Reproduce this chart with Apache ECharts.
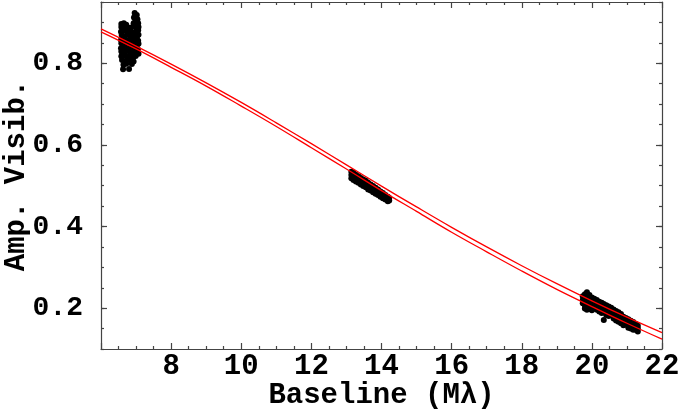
<!DOCTYPE html>
<html>
<head>
<meta charset="utf-8">
<script src="https://cdn.jsdelivr.net/npm/echarts@6/dist/echarts.min.js"></script>
<style>html,body{margin:0;padding:0;background:#fff}#c{width:680px;height:414px}</style>
</head>
<body>
<div id="c"></div>
<script>
// ---- data ----
var curveX = [6,7,8,9,10,11,12,13,14,15,16,17,18,19,20,21,22];
var upperY = [0.884,0.842,0.798,0.752,0.704,0.654,0.603,0.551,0.499,0.448,0.398,0.350,0.304,0.260,0.218,0.178,0.140];
var lowerY = [0.877,0.835,0.790,0.744,0.695,0.645,0.593,0.541,0.488,0.437,0.386,0.338,0.291,0.246,0.204,0.163,0.124];

var clusterShort = [
 [6.96,0.923],[7.02,0.918],[6.94,0.912],[7.04,0.908],[6.98,0.902],[6.93,0.898],[7.06,0.898],[6.58,0.896],[6.65,0.898],[6.72,0.894],
 [6.58,0.889],[6.66,0.886],[6.74,0.884],[6.83,0.887],[6.92,0.890],[7.01,0.886],[7.07,0.889],
 [6.57,0.877],[6.65,0.880],[6.75,0.876],[6.84,0.879],[6.93,0.875],[7.02,0.878],[7.06,0.881],
 [6.59,0.869],[6.67,0.866],[6.76,0.870],[6.85,0.867],[6.94,0.869],[7.03,0.866],[7.07,0.870],
 [6.57,0.857],[6.66,0.860],[6.74,0.856],[6.83,0.859],[6.92,0.857],[7.01,0.860],[7.06,0.855],
 [6.58,0.849],[6.66,0.846],[6.75,0.850],[6.84,0.847],[6.93,0.849],[7.02,0.845],[7.07,0.848],
 [6.57,0.837],[6.65,0.840],[6.74,0.836],[6.83,0.839],[6.92,0.836],[7.01,0.839],[7.05,0.834],
 [6.58,0.829],[6.66,0.826],[6.75,0.830],[6.84,0.827],[6.93,0.829],[7.00,0.825],[7.07,0.823],
 [6.58,0.817],[6.66,0.820],[6.74,0.816],[6.83,0.819],[6.92,0.815],[6.99,0.818],
 [6.60,0.808],[6.68,0.805],[6.76,0.809],[6.85,0.806],[6.93,0.804],
 [6.64,0.796],[6.72,0.799],[6.63,0.785],[6.80,0.786],[6.88,0.798]
];
var clusterMid = [
 [13.14,0.534],[13.14,0.526],[13.14,0.518],
 [13.20,0.532],[13.20,0.523],[13.20,0.514],
 [13.27,0.527],[13.27,0.519],[13.27,0.510],
 [13.34,0.523],[13.34,0.514],[13.34,0.507],
 [13.41,0.519],[13.41,0.511],[13.41,0.503],
 [13.48,0.515],[13.48,0.507],[13.48,0.499],
 [13.55,0.512],[13.55,0.503],[13.55,0.496],
 [13.62,0.507],[13.62,0.499],[13.62,0.491],
 [13.69,0.503],[13.69,0.495],[13.69,0.488],
 [13.76,0.499],[13.76,0.491],[13.76,0.484],
 [13.83,0.495],[13.83,0.488],[13.83,0.480],
 [13.90,0.491],[13.90,0.484],[13.90,0.477],
 [13.97,0.486],[13.97,0.480],[13.97,0.473],
 [14.04,0.482],[14.04,0.476],[14.04,0.469],
 [14.11,0.477],[14.11,0.472],[14.11,0.466],
 [14.18,0.473],[14.18,0.468],[14.18,0.462],
 [14.22,0.470],[14.22,0.464]
];
var clusterLong = [
 [19.74,0.229],[19.74,0.220],[19.74,0.212],
 [19.80,0.234],[19.80,0.225],[19.80,0.216],[19.80,0.207],[19.80,0.199],
 [19.86,0.239],[19.86,0.230],[19.86,0.221],[19.86,0.212],[19.86,0.203],[19.86,0.196],
 [19.93,0.232],[19.93,0.224],[19.93,0.215],[19.93,0.206],[19.93,0.198],
 [20.00,0.226],[20.00,0.218],[20.00,0.210],[20.00,0.202],[20.00,0.195],
 [20.07,0.223],[20.07,0.215],[20.07,0.207],[20.07,0.199],
 [20.14,0.220],[20.14,0.212],[20.14,0.204],[20.14,0.196],
 [20.21,0.216],[20.21,0.208],[20.21,0.200],[20.21,0.192],
 [20.28,0.213],[20.28,0.205],[20.28,0.196],[20.28,0.188],
 [20.34,0.210],[20.34,0.202],[20.34,0.193],[20.34,0.171],
 [20.41,0.207],[20.41,0.198],[20.41,0.190],[20.41,0.183],
 [20.48,0.204],[20.48,0.195],[20.48,0.187],[20.48,0.181],
 [20.55,0.201],[20.55,0.192],[20.55,0.184],
 [20.62,0.197],[20.62,0.189],[20.62,0.181],[20.62,0.175],
 [20.69,0.193],[20.69,0.185],[20.69,0.177],[20.69,0.170],
 [20.76,0.190],[20.76,0.182],[20.76,0.174],[20.76,0.167],
 [20.83,0.186],[20.83,0.178],[20.83,0.170],[20.83,0.163],
 [20.90,0.179],[20.90,0.171],[20.90,0.163],[20.90,0.158],
 [20.97,0.176],[20.97,0.168],[20.97,0.160],
 [21.04,0.173],[21.04,0.165],[21.04,0.157],[21.04,0.152],
 [21.11,0.169],[21.11,0.161],[21.11,0.153],[21.11,0.150],
 [21.18,0.166],[21.18,0.158],[21.18,0.150],[21.18,0.147],
 [21.25,0.161],[21.25,0.154],[21.25,0.147],
 [21.31,0.157],[21.31,0.150],[21.31,0.143]
];
var xTickLabels = ['8','10','12','14','16','18','20','22'];
var yTickLabels = ['0.2','0.4','0.6','0.8'];
var yCats = ['0.1','0.15','0.2','0.25','0.3','0.35','0.4','0.45','0.5','0.55','0.6','0.65','0.7','0.75','0.8','0.85','0.9','0.95'];

// ---- chart ----
var FONT = 'Liberation Mono';
var frame = {color:'#444', width:1.2};
var txt = {fontFamily:FONT, fontWeight:'bold', fontSize:29, color:'#000'};
function zip(xs, ys){ return xs.map(function(x,i){return [x, ys[i]];}); }
function isMajor(i){ return yTickLabels.indexOf(yCats[i]) >= 0; }

var chart = echarts.init(document.getElementById('c'), null, {renderer:'canvas'});
var xBase = {
  type:'value', min:6, max:22, interval:2,
  axisLine:{show:true, lineStyle:frame},
  axisTick:{show:true, inside:true, length:6, lineStyle:frame},
  minorTick:{show:true, splitNumber:4, length:3, lineStyle:frame},
  splitLine:{show:false}, minorSplitLine:{show:false}
};
chart.setOption({
  animation:false,
  backgroundColor:'#fff',
  grid:{left:101, right:18, top:2, bottom:65, containLabel:false, outerBoundsMode:'none'},
  xAxis:[
    Object.assign({}, xBase, {
      position:'bottom',
      axisLabel:Object.assign({}, txt, {margin:3, hideOverlap:false, formatter:function(v){
        var s = String(v); return xTickLabels.indexOf(s) >= 0 ? s : '';
      }}),
      name:'Baseline (M\u03bb)', nameLocation:'middle', nameGap:32, nameMoveOverlap:false,
      nameTextStyle:txt
    }),
    Object.assign({}, xBase, {position:'top', axisLabel:{show:false}})
  ],
  yAxis:[
    {type:'value', min:0.1, max:0.95, interval:0.05, position:'left',
     axisLine:{show:true, lineStyle:frame},
     axisTick:{show:true, inside:true, length:3, lineStyle:frame},
     axisLabel:{show:false}, splitLine:{show:false}},
    {type:'category', data:yCats, boundaryGap:false, position:'left',
     axisLine:{show:false},
     axisTick:{show:true, inside:true, length:6, lineStyle:frame, interval:function(i){return isMajor(i);}},
     axisLabel:Object.assign({}, txt, {fontSize:28, margin:18, interval:function(i){return isMajor(i);}}),
     splitLine:{show:false},
     name:'Amp. Visib.', nameLocation:'middle', nameGap:70, nameRotate:90, nameMoveOverlap:false,
     nameTextStyle:txt},
    {type:'value', min:0.1, max:0.95, interval:0.05, position:'right',
     axisLine:{show:true, lineStyle:frame},
     axisTick:{show:true, inside:true, length:3, lineStyle:frame},
     axisLabel:{show:false}, splitLine:{show:false}},
    {type:'category', data:yCats, boundaryGap:false, position:'right',
     axisLine:{show:false},
     axisTick:{show:true, inside:true, length:6, lineStyle:frame, interval:function(i){return isMajor(i);}},
     axisLabel:{show:false}, splitLine:{show:false}}
  ],
  series:[
    {type:'scatter', xAxisIndex:0, yAxisIndex:0, data:clusterShort.concat(clusterMid, clusterLong),
     symbol:'circle', symbolSize:6, itemStyle:{color:'#000', opacity:1, borderWidth:0}, silent:true},
    {type:'line', xAxisIndex:0, yAxisIndex:0, data:zip(curveX, upperY), smooth:0.4,
     showSymbol:false, symbol:'none', lineStyle:{color:'#ff0000', width:1.3}, silent:true},
    {type:'line', xAxisIndex:0, yAxisIndex:0, data:zip(curveX, lowerY), smooth:0.4,
     showSymbol:false, symbol:'none', lineStyle:{color:'#ff0000', width:1.3}, silent:true}
  ]
});
</script>
</body>
</html>
